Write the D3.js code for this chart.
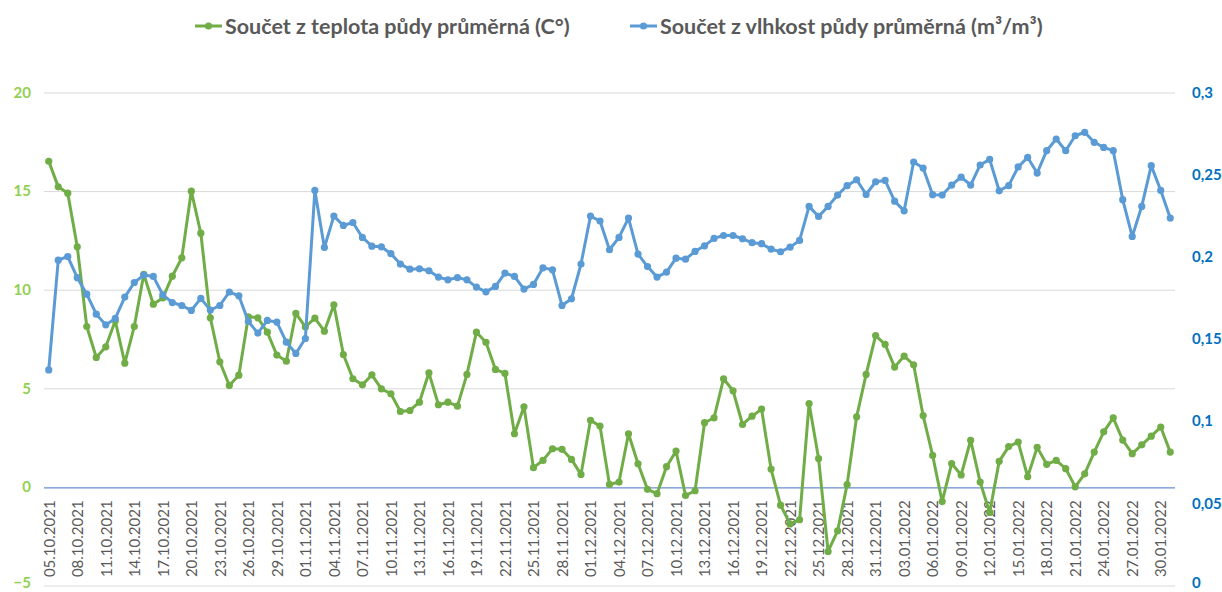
<!DOCTYPE html>
<html>
<head>
<meta charset="utf-8">
<script src="https://cdn.jsdelivr.net/npm/d3@7"></script>
<style>
  html, body { margin: 0; padding: 0; background: #fff; }
  svg { display: block; }
</style>
</head>
<body>
<svg id="chart" width="1222" height="592"></svg>
<script>
const categories = [
  "05.10.2021","06.10.2021","07.10.2021","08.10.2021","09.10.2021","10.10.2021","11.10.2021","12.10.2021","13.10.2021","14.10.2021",
  "15.10.2021","16.10.2021","17.10.2021","18.10.2021","19.10.2021","20.10.2021","21.10.2021","22.10.2021","23.10.2021","24.10.2021",
  "25.10.2021","26.10.2021","27.10.2021","28.10.2021","29.10.2021","30.10.2021","31.10.2021",
  "01.11.2021","02.11.2021","03.11.2021","04.11.2021","05.11.2021","06.11.2021","07.11.2021","08.11.2021","09.11.2021","10.11.2021",
  "11.11.2021","12.11.2021","13.11.2021","14.11.2021","15.11.2021","16.11.2021","17.11.2021","18.11.2021","19.11.2021","20.11.2021",
  "21.11.2021","22.11.2021","23.11.2021","24.11.2021","25.11.2021","26.11.2021","27.11.2021","28.11.2021","29.11.2021","30.11.2021",
  "01.12.2021","02.12.2021","03.12.2021","04.12.2021","05.12.2021","06.12.2021","07.12.2021","08.12.2021","09.12.2021","10.12.2021",
  "11.12.2021","12.12.2021","13.12.2021","14.12.2021","15.12.2021","16.12.2021","17.12.2021","18.12.2021","19.12.2021","20.12.2021",
  "21.12.2021","22.12.2021","23.12.2021","24.12.2021","25.12.2021","26.12.2021","27.12.2021","28.12.2021","29.12.2021","30.12.2021","31.12.2021",
  "01.01.2022","02.01.2022","03.01.2022","04.01.2022","05.01.2022","06.01.2022","07.01.2022","08.01.2022","09.01.2022","10.01.2022",
  "11.01.2022","12.01.2022","13.01.2022","14.01.2022","15.01.2022","16.01.2022","17.01.2022","18.01.2022","19.01.2022","20.01.2022",
  "21.01.2022","22.01.2022","23.01.2022","24.01.2022","25.01.2022","26.01.2022","27.01.2022","28.01.2022","29.01.2022","30.01.2022","31.01.2022"
];

const teplota = [
  16.54,15.24,14.92,12.2,8.16,6.59,7.13,8.45,6.30,8.16,
  10.81,9.29,9.61,10.71,11.64,15.02,12.89,8.6,6.37,5.17,
  5.69,8.65,8.6,7.87,6.71,6.4,8.82,8.14,8.58,7.92,
  9.26,6.74,5.51,5.2,5.71,5.0,4.75,3.85,3.9,4.32,
  5.81,4.19,4.32,4.12,5.73,7.87,7.36,5.98,5.78,2.72,
  4.09,1.0,1.37,1.96,1.93,1.42,0.66,3.4,3.11,0.15,
  0.27,2.72,1.2,-0.1,-0.32,1.05,1.84,-0.41,-0.17,3.28,
  3.53,5.51,4.9,3.19,3.61,3.97,0.93,-0.9,-1.85,-1.64,
  4.25,1.46,-3.25,-2.2,0.14,3.58,5.73,7.7,7.25,6.1,
  6.66,6.22,3.64,1.62,-0.72,1.21,0.63,2.39,0.27,-1.27,
  1.32,2.07,2.3,0.54,2.03,1.17,1.37,0.95,0.03,0.69,
  1.79,2.82,3.53,2.4,1.71,2.16,2.6,3.06,1.79
];

const vlhkost = [
  0.1315,0.1983,0.2005,0.1876,0.1776,0.1654,0.1589,0.1628,0.1758,0.1847,
  0.1892,0.1884,0.1772,0.1725,0.1707,0.1677,0.175,0.1679,0.1707,0.1789,
  0.1766,0.161,0.1539,0.1616,0.1606,0.1484,0.1415,0.1506,0.2407,0.206,
  0.2251,0.2194,0.2212,0.2121,0.2068,0.2064,0.2022,0.1959,0.1928,0.193,
  0.1918,0.188,0.1863,0.1877,0.1863,0.1819,0.179,0.1823,0.1904,0.1884,
  0.1807,0.1835,0.1936,0.1924,0.1707,0.1748,0.1959,0.2251,0.2221,0.2046,
  0.2121,0.2239,0.202,0.1944,0.188,0.191,0.1995,0.1989,0.2036,0.207,
  0.2115,0.2133,0.2133,0.2113,0.2089,0.2083,0.205,0.2034,0.2062,0.2103,
  0.231,0.2249,0.231,0.2379,0.2436,0.2472,0.2383,0.246,0.2468,0.2342,
  0.2283,0.258,0.2543,0.2381,0.2379,0.244,0.2488,0.244,0.2562,0.2596,
  0.2405,0.2436,0.255,0.2608,0.2513,0.2649,0.272,0.2649,0.274,0.2761,
  0.27,0.2669,0.2649,0.2351,0.2127,0.231,0.2558,0.2407,0.2239
];

const leftTicks = [-5, 0, 5, 10, 15, 20];
const rightTicks = [0, 0.05, 0.1, 0.15, 0.2, 0.25, 0.3];
const seriesNames = ["Součet z teplota půdy průměrná (C°)", "Součet z vlhkost půdy průměrná (m³/m³)"];

(function () {
const GREEN = "#70AD47", BLUE = "#5B9BD5";
const svg = d3.select("#chart");
const pL = 44, pR = 1175, pT = 93, pB = 586;

const x = d3.scalePoint().domain(categories).range([pL, pR]).padding(0.5);
const yL = d3.scaleLinear().domain([-5, 20]).range([pB, pT]);
const yR = d3.scaleLinear().domain([0, 0.3]).range([pB, pT]);

// gridlines
svg.append("g").selectAll("line").data(leftTicks.filter(d => d !== 0)).join("line")
  .attr("x1", pL).attr("x2", pR)
  .attr("y1", d => yL(d)).attr("y2", d => yL(d))
  .attr("stroke", "#d9d9d9").attr("stroke-width", 1);

// left axis labels
const axL = svg.append("g").attr("transform", `translate(${pL},0)`)
  .call(d3.axisLeft(yL).tickValues(leftTicks).tickSize(0).tickPadding(13).tickFormat(d3.format("d")));
axL.select(".domain").remove();
axL.selectAll("text").attr("fill", "#92D050").attr("font-family", "Lato, 'Open Sans', sans-serif")
  .attr("font-weight", "bold").attr("font-size", 15).attr("dy", "0.28em")
  .attr("y", d => d === leftTicks[0] ? -3 : 0);

// right axis labels
const fmtR = d => d === 0 ? "0" : String(+d.toFixed(2)).replace(".", ",");
const axR = svg.append("g").attr("transform", `translate(${pR},0)`)
  .call(d3.axisRight(yR).tickValues(rightTicks).tickSize(0).tickPadding(17).tickFormat(fmtR));
axR.select(".domain").remove();
axR.selectAll("text").attr("fill", "#0070C0").attr("font-family", "Lato, 'Open Sans', sans-serif")
  .attr("font-weight", "bold").attr("font-size", 15).attr("dy", "0.28em")
  .attr("y", d => d === rightTicks[0] ? -3 : 0);

// category axis at zero
const axB = svg.append("g").attr("transform", `translate(0,${yL(0)})`)
  .call(d3.axisBottom(x).tickValues(categories.filter((d, i) => i % 3 === 0)).tickSize(0).tickPadding(0));
axB.select(".domain").attr("stroke", "#4472C4").attr("stroke-width", 1)
  .attr("d", `M${pL},0.5H${pR}`);
axB.selectAll("text")
  .attr("transform", "translate(0,13) rotate(-90)")
  .attr("text-anchor", "end").attr("dy", "0.35em").attr("y", 0).attr("x", 0)
  .attr("fill", "#595959").attr("font-family", "Lato, 'Open Sans', sans-serif").attr("font-size", 15);

// series
function drawSeries(data, yScale, color) {
  const g = svg.append("g");
  const line = d3.line().x((d, i) => x(categories[i])).y(d => yScale(d));
  g.append("path").datum(data).attr("d", line).attr("fill", "none")
    .attr("stroke", color).attr("stroke-width", 3).attr("stroke-linejoin", "round");
  g.selectAll("circle").data(data).join("circle")
    .attr("cx", (d, i) => x(categories[i])).attr("cy", d => yScale(d))
    .attr("r", 3.6).attr("fill", color);
}
drawSeries(teplota, yL, GREEN);
drawSeries(vlhkost, yR, BLUE);

// legend
const legend = [
  {name: seriesNames[0], color: GREEN, x: 195},
  {name: seriesNames[1], color: BLUE, x: 630}
];
const lg = svg.append("g").selectAll("g").data(legend).join("g")
  .attr("transform", d => `translate(${d.x},26)`);
lg.append("line").attr("x1", 0).attr("x2", 27).attr("y1", 0).attr("y2", 0)
  .attr("stroke", d => d.color).attr("stroke-width", 3);
lg.append("circle").attr("cx", 13.5).attr("cy", 0).attr("r", 3.6).attr("fill", d => d.color);
lg.append("text").attr("x", 30).attr("y", 0).attr("dy", "0.35em")
  .attr("fill", "#595959").attr("font-family", "Lato, 'Open Sans', sans-serif")
  .attr("font-weight", "bold").attr("font-size", 21.5)
  .text(d => d.name);
})();
</script>
</body>
</html>
